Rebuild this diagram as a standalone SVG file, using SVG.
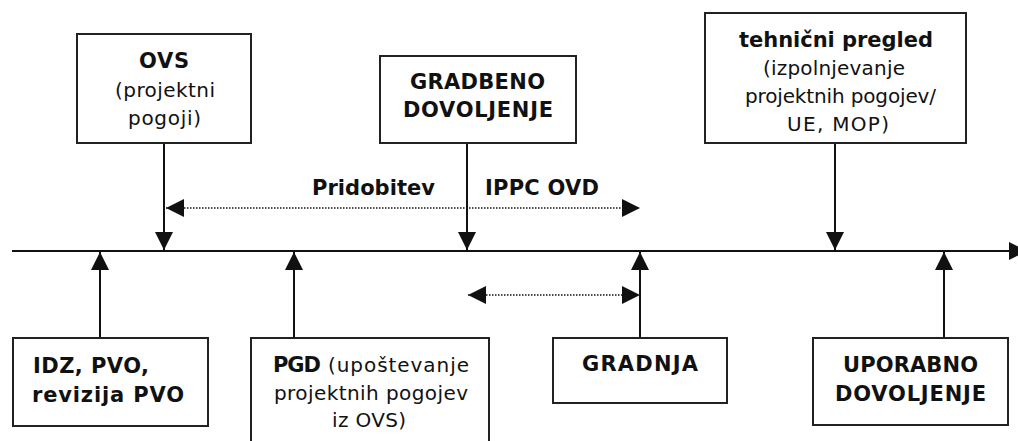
<svg xmlns="http://www.w3.org/2000/svg" width="1018" height="441" viewBox="0 0 1018 441">
<style>
.box{fill:#fff;stroke:#222;stroke-width:2}
.ln{stroke:#111;stroke-width:2;fill:none}
.dot{stroke:#111;stroke-width:1.5;fill:none;stroke-dasharray:1.5 1.5}
text{font-family:"DejaVu Sans","Verdana",sans-serif;fill:#111}
.b{font-weight:bold;font-size:21px}
.r{font-size:20px}
</style>
<defs>
<marker id="ah" viewBox="0 0 18 18" refX="18" refY="9" markerWidth="18" markerHeight="18" markerUnits="userSpaceOnUse" orient="auto-start-reverse">
<path d="M0,0 L18,9 L0,18 Z" fill="#111"/>
</marker>
</defs>
<rect width="1018" height="441" fill="#fff"/>
<g id="connectors">
<line class="ln" x1="12" y1="251" x2="1027" y2="251" marker-end="url(#ah)"/>
<line class="ln" x1="164" y1="143" x2="164" y2="250" marker-end="url(#ah)"/>
<line class="ln" x1="467" y1="143" x2="467" y2="250" marker-end="url(#ah)"/>
<line class="ln" x1="835" y1="143" x2="835" y2="250" marker-end="url(#ah)"/>
<line class="ln" x1="100" y1="338" x2="100" y2="252" marker-end="url(#ah)"/>
<line class="ln" x1="294" y1="338" x2="294" y2="252" marker-end="url(#ah)"/>
<line class="ln" x1="640" y1="338" x2="640" y2="252" marker-end="url(#ah)"/>
<line class="ln" x1="944" y1="338" x2="944" y2="252" marker-end="url(#ah)"/>
<line class="dot" x1="166" y1="208" x2="640" y2="208" marker-start="url(#ah)" marker-end="url(#ah)"/>
<line class="dot" x1="468" y1="295" x2="640" y2="295" marker-start="url(#ah)" marker-end="url(#ah)"/>
</g>
<g id="labels">
<text class="b" x="312" y="195" textLength="123" lengthAdjust="spacing">Pridobitev</text>
<text class="b" x="485" y="195" textLength="114" lengthAdjust="spacing">IPPC OVD</text>
</g>
<g id="ovs">
<rect class="box" x="77" y="34" width="174" height="109"/>
<text class="b" x="139" y="68" textLength="50" lengthAdjust="spacing">OVS</text>
<text class="r" x="115" y="97" textLength="100" lengthAdjust="spacing">(projektni</text>
<text class="r" x="128" y="125" textLength="73" lengthAdjust="spacing">pogoji)</text>
</g>
<g id="gradbeno">
<rect class="box" x="380" y="56" width="196" height="87"/>
<text class="b" x="410" y="89" textLength="135" lengthAdjust="spacing">GRADBENO</text>
<text class="b" x="403" y="117" textLength="150" lengthAdjust="spacing">DOVOLJENJE</text>
</g>
<g id="tehnicni">
<rect class="box" x="705" y="13" width="261" height="130"/>
<text class="b" x="739" y="47" textLength="194" lengthAdjust="spacing">tehnični pregled</text>
<text class="r" x="763" y="75" textLength="142" lengthAdjust="spacing">(izpolnjevanje</text>
<text class="r" x="745" y="103" textLength="191" lengthAdjust="spacing">projektnih pogojev/</text>
<text class="r" x="787" y="131" textLength="102" lengthAdjust="spacing">UE, MOP)</text>
</g>
<g id="idz">
<rect class="box" x="13" y="338" width="195" height="88"/>
<text class="b" x="33" y="373" textLength="116" lengthAdjust="spacing">IDZ, PVO,</text>
<text class="b" x="32" y="402" textLength="152" lengthAdjust="spacing">revizija PVO</text>
</g>
<g id="pgd">
<rect class="box" x="251" y="338" width="238" height="110"/>
<text class="b" x="273" y="372" textLength="48" lengthAdjust="spacing">PGD</text>
<text class="r" x="328" y="372" textLength="141" lengthAdjust="spacing">(upoštevanje</text>
<text class="r" x="274" y="400" textLength="194" lengthAdjust="spacing">projektnih pogojev</text>
<text class="r" x="332" y="427" textLength="74" lengthAdjust="spacing">iz OVS)</text>
</g>
<g id="gradnja">
<rect class="box" x="553" y="338" width="174" height="65"/>
<text class="b" x="582" y="371" textLength="116" lengthAdjust="spacing">GRADNJA</text>
</g>
<g id="uporabno">
<rect class="box" x="813" y="338" width="195" height="87"/>
<text class="b" x="843" y="372" textLength="135" lengthAdjust="spacing">UPORABNO</text>
<text class="b" x="835" y="401" textLength="151" lengthAdjust="spacing">DOVOLJENJE</text>
</g>
</svg>
